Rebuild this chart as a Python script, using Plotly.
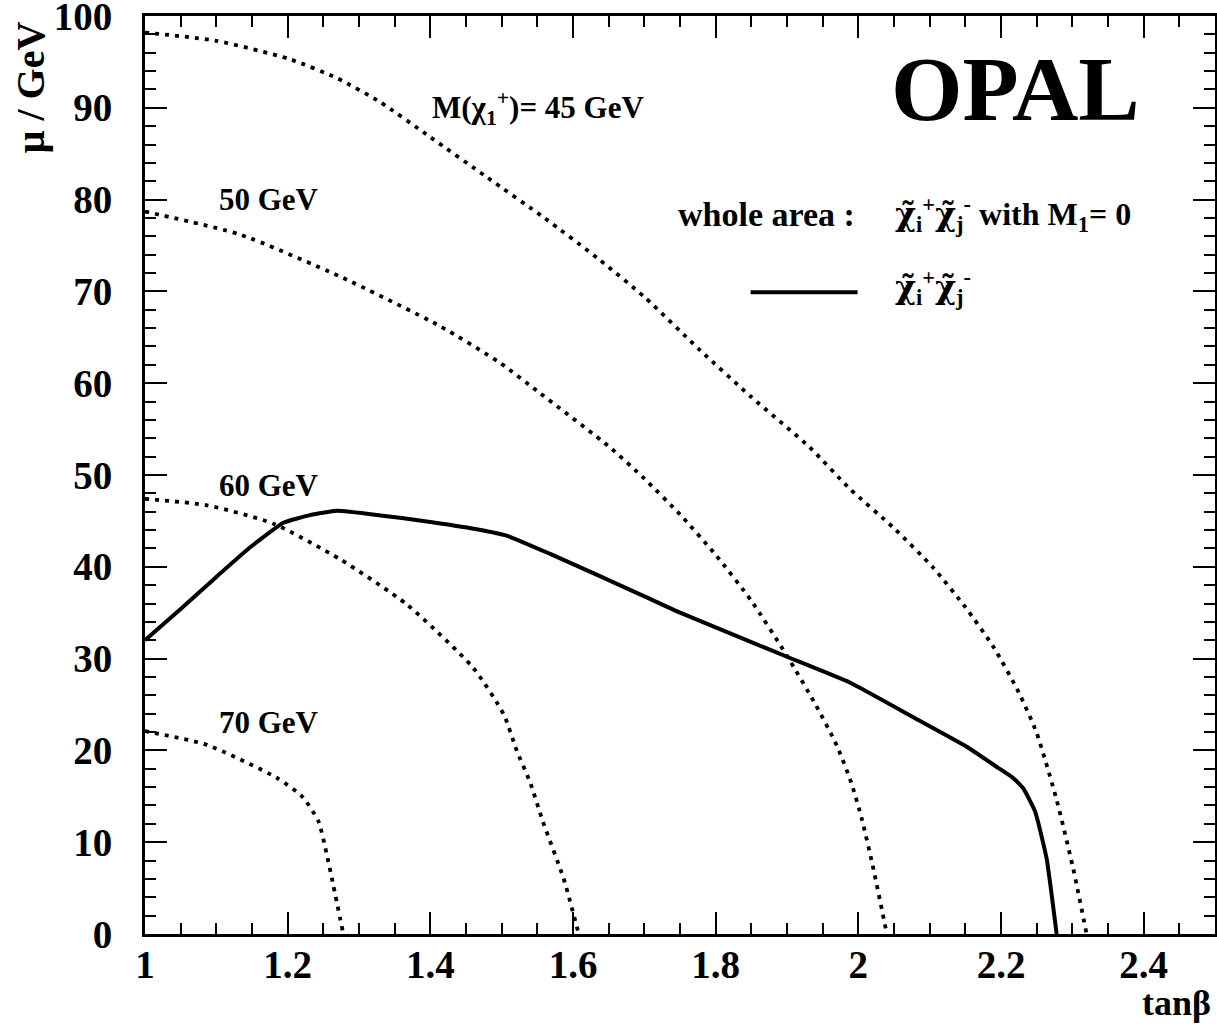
import plotly.graph_objects as go

# ---- data ----
excl_x = [1.0, 1.05, 1.10, 1.147, 1.194, 1.23, 1.269, 1.33, 1.39, 1.465, 1.507, 1.568, 1.64, 1.708, 1.75,
          1.85, 1.90, 1.988, 2.082, 2.152, 2.196, 2.217, 2.231, 2.248, 2.264, 2.278]
excl_y = [32.0, 35.4, 38.9, 42.1, 44.8, 45.6, 46.1, 45.6, 45.0, 44.1, 43.4, 41.4, 38.9, 36.5, 35.0,
          31.8, 30.2, 27.4, 23.4, 20.4, 18.1, 17.0, 15.9, 13.3, 8.2, 0.0]

m45_x = [1.0, 1.10, 1.203, 1.27, 1.33, 1.40, 1.48, 1.56, 1.638, 1.70, 1.778, 1.85, 1.932, 1.988, 2.05,
         2.105, 2.15, 2.19, 2.225, 2.25, 2.278, 2.301, 2.32]
m45_y = [98.2, 97.3, 95.3, 93.2, 90.6, 86.8, 82.4, 78.0, 73.4, 69.4, 63.6, 58.5, 53.0, 48.5, 44.2,
         39.9, 35.6, 31.2, 26.3, 21.9, 14.6, 7.2, 0.0]

m50_x = [1.0, 1.133, 1.274, 1.414, 1.498, 1.554, 1.652, 1.70, 1.75, 1.80, 1.85, 1.90, 1.94, 1.97,
         1.99, 2.005, 2.02, 2.04]
m50_y = [78.7, 76.2, 71.6, 66.2, 62.2, 58.9, 53.0, 49.6, 45.7, 41.3, 36.3, 30.3, 25.0, 20.5,
         16.5, 12.5, 7.5, 0.0]

m60_x = [1.0, 1.087, 1.18, 1.274, 1.367, 1.46, 1.503, 1.521, 1.54, 1.558, 1.587, 1.608]
m60_y = [47.4, 46.7, 44.7, 40.8, 35.9, 29.0, 23.9, 20.0, 16.5, 12.2, 6.0, 0.0]

m70_x = [1.0, 1.087, 1.185, 1.22, 1.243, 1.255, 1.264, 1.278]
m70_y = [22.1, 20.6, 17.0, 15.0, 12.3, 8.6, 5.3, 0.0]

mass_labels = ["M(χ<sub>1</sub><sup>+</sup>)= 45 GeV", "50 GeV", "60 GeV", "70 GeV"]
mass_label_x = [1.40, 1.101, 1.101, 1.101]
mass_label_y = [90.0, 80.0, 48.9, 23.0]

x_range = [1.0, 2.5]
y_range = [0, 100]

FONT = "Liberation Serif"
CHI = '<span style="font-family:DejaVu Serif">χ̃</span>'

fig = go.Figure()

dot_style = dict(color="black", width=3.8, dash="4px,6px")
for xs, ys in [(m45_x, m45_y), (m50_x, m50_y), (m60_x, m60_y), (m70_x, m70_y)]:
    fig.add_trace(go.Scatter(x=xs, y=ys, mode="lines", line=dict(shape="spline", smoothing=0.6, **dot_style),
                             showlegend=False, hoverinfo="skip"))

fig.add_trace(go.Scatter(x=excl_x, y=excl_y, mode="lines",
                         line=dict(color="black", width=4, shape="spline", smoothing=0.4),
                         showlegend=False, name="χ̃⁺χ̃⁻"))

annotations = []
for t, lx, ly in zip(mass_labels, mass_label_x, mass_label_y):
    annotations.append(dict(x=lx, y=ly, xref="x", yref="y", text=t, showarrow=False,
                            xanchor="left", yanchor="middle",
                            font=dict(family=FONT, size=31, color="black", weight="bold")))

annotations += [
    dict(x=0.814, y=0.92, xref="paper", yref="paper", text="OPAL", showarrow=False,
         xanchor="center", yanchor="middle", font=dict(family=FONT, size=92, color="black", weight="bold")),
    dict(x=1.998, y=78.4, xref="x", yref="y", text="whole area :", showarrow=False,
         xanchor="right", yanchor="middle", font=dict(family=FONT, size=34, color="black", weight="bold")),
    dict(x=2.049, y=78.4, xref="x", yref="y",
         text=CHI + "<sub>i</sub><sup>+</sup>" + CHI + "<sub>j</sub><sup>-</sup> with M<sub>1</sub>= 0",
         showarrow=False,
         xanchor="left", yanchor="middle", font=dict(family=FONT, size=32, color="black", weight="bold")),
    dict(x=2.049, y=70.4, xref="x", yref="y",
         text=CHI + "<sub>i</sub><sup>+</sup>" + CHI + "<sub>j</sub><sup>-</sup>", showarrow=False,
         xanchor="left", yanchor="middle", font=dict(family=FONT, size=32, color="black", weight="bold")),
    dict(x=-0.107, y=0.996, xref="paper", yref="paper", text="μ / GeV", showarrow=False, textangle=-90,
         xanchor="center", yanchor="top", font=dict(family=FONT, size=40, color="black", weight="bold")),
    dict(x=0.998, y=-0.075, xref="paper", yref="paper", text="tanβ", showarrow=False,
         xanchor="right", yanchor="middle", font=dict(family=FONT, size=36, color="black", weight="bold")),
]

shapes = [dict(type="line", xref="paper", yref="paper", x0=0.566, x1=0.666, y0=0.699, y1=0.699,
               line=dict(color="black", width=4))]

axis_common = dict(showline=True, linecolor="black", linewidth=3, mirror="ticks", ticks="inside",
                   tickcolor="black", tickwidth=2, ticklen=22, showgrid=False, zeroline=False,
                   ticklabeloverflow="allow", automargin=False,
                   tickfont=dict(family=FONT, size=39, color="black", weight="bold"))

fig.update_layout(
    width=1217, height=1030,
    margin=dict(l=145, r=2, t=16, b=96),
    paper_bgcolor="white", plot_bgcolor="white",
    xaxis=dict(range=x_range, dtick=0.2, tick0=1, ticklabelstandoff=-6,
               minor=dict(ticks="inside", ticklen=11, tickwidth=2, tickcolor="black", dtick=0.05),
               **axis_common),
    yaxis=dict(range=y_range, dtick=10, tick0=0, ticklabelstandoff=22,
               minor=dict(ticks="inside", ticklen=11, tickwidth=2, tickcolor="black", dtick=2),
               **axis_common),
    annotations=annotations, shapes=shapes, showlegend=False,
)

# remove the default page margin so the figure sits at the window's top-left corner
fig.write_html("out.html", config={"displayModeBar": False},
               post_script="document.body.style.margin='0';")
